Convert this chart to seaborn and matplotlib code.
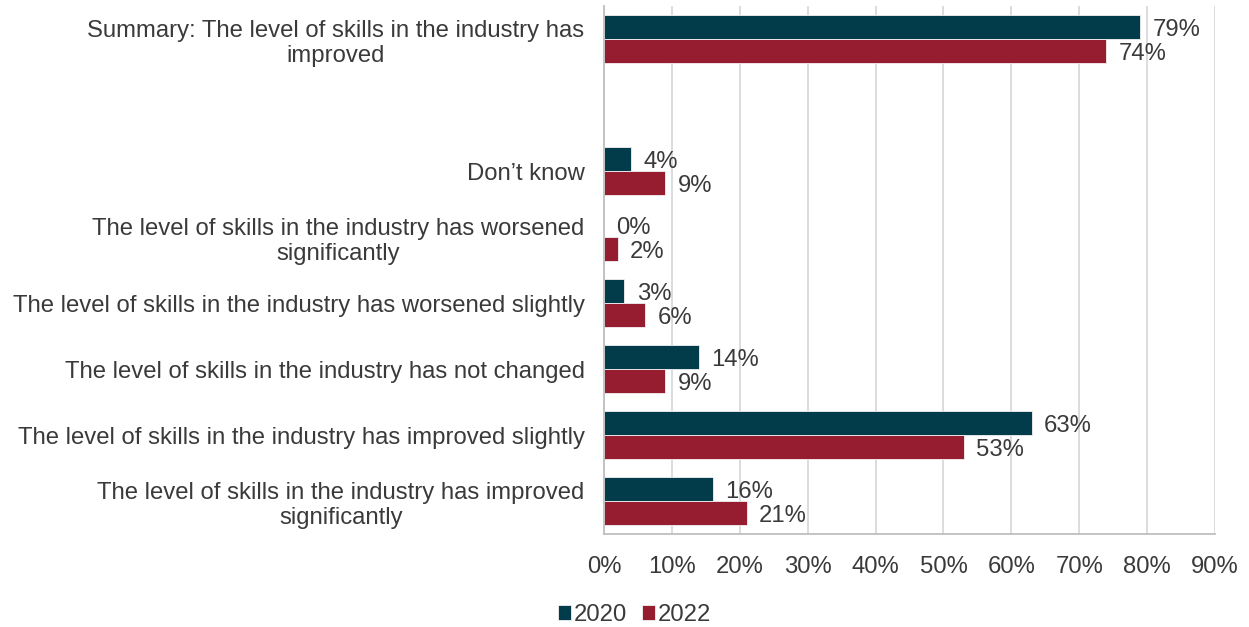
import matplotlib
matplotlib.use("Agg")
import matplotlib.pyplot as plt
import seaborn as sns
import pandas as pd

categories = [
    "Summary: The level of skills in the industry has\nimproved",
    " ",
    "Don\u2019t know",
    "The level of skills in the industry has worsened\nsignificantly",
    "The level of skills in the industry has worsened slightly",
    "The level of skills in the industry has not changed",
    "The level of skills in the industry has improved slightly",
    "The level of skills in the industry has improved\nsignificantly",
]
years = ["2020", "2022"]
values_2020 = [79, None, 4, 0, 3, 14, 63, 16]
values_2022 = [74, None, 9, 2, 6, 9, 53, 21]
x_ticks = [0, 10, 20, 30, 40, 50, 60, 70, 80, 90]

rows = []
for cat, v20, v22 in zip(categories, values_2020, values_2022):
    if v20 is not None:
        rows.append({"category": cat, "year": "2020", "value": v20})
    if v22 is not None:
        rows.append({"category": cat, "year": "2022", "value": v22})
df = pd.DataFrame(rows)

sns.set_theme(style="white")
plt.rcParams["font.family"] = ["Liberation Sans", "DejaVu Sans"]
text_color = "#3A3A3A"
fs = 17.2

fig = plt.figure(figsize=(12.49, 6.27), dpi=100)
ax = fig.add_axes([0.4836, 0.1483, 0.4892, 0.8420])

palette = {"2020": "#023B4A", "2022": "#961D30"}
sns.barplot(
    data=df, y="category", x="value", hue="year",
    order=categories, hue_order=years, palette=palette,
    orient="h", width=0.74, saturation=1, ax=ax,
    edgecolor="#F2F2F2", linewidth=0.6, legend=True,
)

# value labels just right of each bar, nudged slightly downward
for cont in ax.containers:
    anns = ax.bar_label(cont, labels=[f"{v:.0f}%" for v in cont.datavalues],
                        padding=9, fontsize=fs, color=text_color)
    for ann in anns:
        ann.xyann = (9, -2.2)

ax.set_xlim(0, 90)
ax.set_xticks(x_ticks)
ax.set_xticklabels([f"{t}%" for t in x_ticks])
ax.xaxis.grid(True, color="#D9D9D9", linewidth=1.3)
ax.set_axisbelow(True)
ax.set_xlabel("")
ax.set_ylabel("")
ax.tick_params(axis="x", length=0, pad=16, labelsize=fs, labelcolor=text_color)
ax.tick_params(axis="y", length=0, pad=14, labelsize=fs, labelcolor=text_color)
for lab in ax.get_yticklabels():
    lab.set_multialignment("center")

for side in ["top", "right"]:
    ax.spines[side].set_visible(False)
for side in ["left", "bottom"]:
    ax.spines[side].set_color("#BFBFBF")
    ax.spines[side].set_linewidth(1.3)

handles, labels = ax.get_legend_handles_labels()
ax.legend_.remove()
fig.legend(handles, labels, loc="center", bbox_to_anchor=(0.508, 0.019),
           ncol=2, frameon=False, fontsize=fs, labelcolor=text_color,
           handlelength=0.55, handleheight=0.55, handletextpad=0.12,
           columnspacing=0.6, borderaxespad=0)

fig.savefig("out.png", dpi=100)
